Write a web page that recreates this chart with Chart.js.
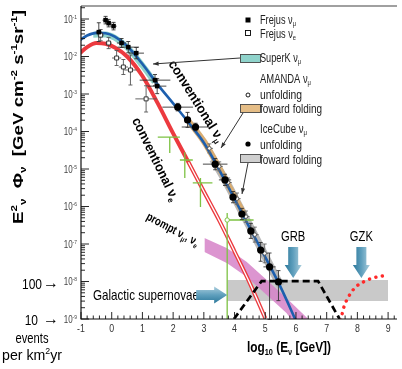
<!DOCTYPE html>
<html lang="en">
<head>
<meta charset="UTF-8">
<title>Neutrino flux</title>
<script src="https://cdn.jsdelivr.net/npm/chart.js"></script>
<style>
  html, body { margin: 0; padding: 0; background: #fff; }
</style>
</head>
<body>
<canvas id="fluxChart" width="402" height="369"></canvas>
<script>
  // all values as log10(E/GeV) and log10(E^2 Phi)
  var blueLogE = [-1.05, -0.8, -0.5, -0.2, 0.1, 0.5, 1.0, 1.5, 2.0, 2.5, 3.0, 3.5, 4.0, 4.5, 5.0, 5.5, 6.0];
  var blueLogF = [-1.57, -1.44, -1.37, -1.38, -1.47, -1.72, -2.2, -2.75, -3.25, -3.76, -4.3, -5.02, -5.8, -6.58, -7.35, -8.15, -9.05];
  var redLogE = [-1.05, -0.8, -0.5, -0.2, 0.1, 0.5, 1.0, 1.5, 2.0, 2.5, 3.0, 3.5, 4.0, 4.5, 5.0];
  var redLogF = [-1.92, -1.75, -1.64, -1.66, -1.76, -2.0, -2.52, -3.25, -4.05, -4.82, -5.6, -6.37, -7.2, -8.05, -8.98];

  var promptLogE = [3.02, 3.76, 4.40, 5.05, 5.69, 6.40];
  var promptHiF = [-6.84, -7.11, -7.48, -7.96, -8.44, -9.0];
  var promptLoF = [-7.21, -7.51, -7.88, -8.36, -8.84, -9.6];

  var snLogE = [3.76, 9.0];
  var snHiF = [-7.96, -7.96];
  var snLoF = [-8.52, -8.52];

  var superkLogE = [-0.6, -0.2, 0.1, 0.5, 1.0, 1.4];
  var superkLogF = [-1.42, -1.41, -1.5, -1.75, -2.24, -2.68];
  var amandaBandLogE = [2.5, 3.0, 3.5, 4.0, 4.3];
  var amandaBandLogF = [-3.72, -4.26, -4.97, -5.74, -6.2];
  var icBandLogE = [3.3, 3.7, 4.2, 4.7, 5.2, 5.5];
  var icBandLogF = [-4.74, -5.3, -6.07, -6.85, -7.65, -8.12];

  var grbLogE = [3.98, 4.88, 6.72, 7.42];
  var grbLogF = [-9.0, -7.99, -7.99, -9.0];
  var gzkLogE = [7.46, 7.55, 7.71, 7.94, 8.2, 8.49, 8.84, 9.0];
  var gzkLogF = [-9.03, -8.71, -8.41, -8.15, -8.01, -7.91, -7.85, -7.83];

  // Frejus numu (filled squares)
  var frejusMuE = [-0.42, -0.20, -0.10, 0.06, 0.32, 0.54, 0.80, 1.41, 1.48];
  var frejusMuF = [-1.35, -1.03, -1.11, -1.19, -1.64, -1.75, -1.91, -2.63, -2.79];
  var frejusMuDE = [0.1, 0.1, 0.1, 0.1, 0.15, 0.35, 0.25, 0.5, 0.3];
  var frejusMuDF = [0.25, 0.1, 0.1, 0.1, 0.12, 0.15, 0.15, 0.15, 0.2];
  // Frejus nue (open squares)
  var frejusEE = [-0.36, -0.10, 0.16, 0.38, 0.61, 1.12];
  var frejusEF = [-1.43, -1.64, -2.04, -2.28, -2.36, -3.13];
  var frejusEDE = [0.1, 0.1, 0.15, 0.15, 0.2, 0.35];
  var frejusEDF = [0.15, 0.15, 0.2, 0.2, 0.4, 0.35];
  // AMANDA unfolding (open circles)
  var amandaE = [3.18, 3.50, 3.79, 4.08, 4.37, 4.66, 4.98];
  var amandaF = [-4.45, -4.93, -5.36, -5.79, -6.27, -6.75, -7.25];
  var amandaDE = [0.12, 0.12, 0.12, 0.12, 0.12, 0.12, 0.12];
  var amandaDF = [0.12, 0.12, 0.12, 0.15, 0.15, 0.2, 0.25];
  // IceCube unfolding (filled circles)
  var iceE = [2.15, 2.47, 2.73, 3.37, 3.69, 3.95, 4.24, 4.53, 4.85, 5.14, 5.43];
  var iceF = [-3.35, -3.69, -3.88, -4.87, -5.29, -5.75, -6.20, -6.65, -7.16, -7.61, -8.01];
  var iceDE = [0.5, 0.1, 0.45, 0.4, 0.2, 0.1, 0.1, 0.1, 0.1, 0.2, 0.1];
  var iceDFup = [0.1, 0.2, 0.1, 0.15, 0.15, 0.15, 0.15, 0.2, 0.2, 0.37, 0.3];
  var iceDFdn = [0.1, 0.2, 0.1, 0.15, 0.15, 0.15, 0.15, 0.2, 0.3, 1.4, 0.5];
  // IceCube nue (green crosses)
  var greenE = [1.89, 2.38, 2.89, 3.76];
  var greenF = [-4.15, -4.76, -5.37, -6.36];
  var greenElo = [1.5, 2.22, 2.64, 3.76];
  var greenEhi = [2.22, 2.64, 3.28, 4.62];
  var greenFlo = [-4.57, -5.24, -6.01, -9.0];
  var greenFhi = [-4.15, -4.55, -5.24, -6.17];

  var yMajorTicks = [-9, -8, -7, -6, -5, -4, -3, -2, -1];
  var xMajorTicks = [-1, 0, 1, 2, 3, 4, 5, 6, 7, 8, 9];

  var FONT = '"Liberation Sans", Arial, sans-serif';
  var COND = 0.8; // squeeze text to look like a condensed face

  function pts(xs, ys) {
    return xs.map(function (x, i) { return { x: x, y: Math.pow(10, ys[i]) }; });
  }

  function fontFor(mode, size, weight) {
    var sz = mode ? size * 0.62 : size;
    return weight + ' ' + sz.toFixed(1) + 'px ' + FONT;
  }
  function richWidth(ctx, segs, size, weight) {
    var w = 0;
    segs.forEach(function (s) { ctx.font = fontFor(s[1], size, weight); w += ctx.measureText(s[0]).width; });
    return w;
  }
  // segs: [text, ''|'^'|'_'], y is the vertical middle
  function drawRich(ctx, segs, x, y, size, weight, align, targetW) {
    var w = richWidth(ctx, segs, size, weight);
    var k = targetW ? targetW / w : COND;
    ctx.save();
    ctx.translate(x, y + size * 0.35);
    ctx.scale(k, 1);
    var cx = align === 'center' ? -w / 2 : (align === 'right' ? -w : 0);
    ctx.textAlign = 'left';
    ctx.textBaseline = 'alphabetic';
    segs.forEach(function (s) {
      ctx.font = fontFor(s[1], size, weight);
      var dy = s[1] === '^' ? -size * 0.4 : (s[1] === '_' ? size * 0.22 : 0);
      ctx.fillText(s[0], cx, dy);
      cx += ctx.measureText(s[0]).width;
    });
    ctx.restore();
  }
  function drawRotated(ctx, segs, cx, cy, angle, size, weight, targetW) {
    ctx.save();
    ctx.translate(cx, cy);
    ctx.rotate(angle * Math.PI / 180);
    drawRich(ctx, segs, 0, 0, size, weight, 'center', targetW);
    ctx.restore();
  }
  function arrowLine(ctx, x1, y1, x2, y2) {
    var a = Math.atan2(y2 - y1, x2 - x1);
    ctx.beginPath();
    ctx.moveTo(x1, y1);
    ctx.lineTo(x2, y2);
    ctx.stroke();
    ctx.beginPath();
    ctx.moveTo(x2, y2);
    ctx.lineTo(x2 - 6 * Math.cos(a - 0.35), y2 - 6 * Math.sin(a - 0.35));
    ctx.lineTo(x2 - 6 * Math.cos(a + 0.35), y2 - 6 * Math.sin(a + 0.35));
    ctx.closePath();
    ctx.fill();
  }
  // fat blue arrow, tip at (tx, ty), dir 'down' or 'right'
  function fatArrow(ctx, tx, ty, dir) {
    ctx.save();
    ctx.translate(tx, ty);
    if (dir === 'right') ctx.rotate(-Math.PI / 2);
    var g = ctx.createLinearGradient(-8, 0, 8, 0);
    g.addColorStop(0, '#2e7a9c');
    g.addColorStop(0.5, '#5f9fbd');
    g.addColorStop(1, '#a6cbdb');
    ctx.fillStyle = g;
    ctx.beginPath();
    ctx.moveTo(0, 0);
    ctx.lineTo(-8.5, -13);
    ctx.lineTo(-5, -13);
    ctx.lineTo(-5, -31);
    ctx.lineTo(5, -31);
    ctx.lineTo(5, -13);
    ctx.lineTo(8.5, -13);
    ctx.closePath();
    ctx.fill();
    ctx.restore();
  }

  var BLUE_INDEX = 9;

  var overlay = {
    id: 'overlay',
    afterDatasetDraw: function (chart, args) {
      if (args.index !== BLUE_INDEX) return;
      var ctx = chart.ctx, sx = chart.scales.x, sy = chart.scales.y;
      function px(v) { return sx.getPixelForValue(v); }
      function py(v) { return sy.getPixelForValue(Math.pow(10, v)); }
      ctx.save();
      // green crosses
      ctx.strokeStyle = '#7dc243';
      ctx.lineWidth = 1.3;
      greenE.forEach(function (e, i) {
        ctx.beginPath();
        ctx.moveTo(px(greenElo[i]), py(greenF[i]));
        ctx.lineTo(px(greenEhi[i]), py(greenF[i]));
        ctx.moveTo(px(e), py(greenFhi[i]));
        ctx.lineTo(px(e), py(greenFlo[i]));
        ctx.stroke();
      });
      // black error bars
      function bars(xs, ys, dx, dup, ddn, col) {
        ctx.strokeStyle = col;
        ctx.lineWidth = 0.9;
        xs.forEach(function (e, i) {
          var x = px(e), y = py(ys[i]);
          var yt = py(ys[i] + dup[i]), yb = py(ys[i] - ddn[i]);
          ctx.beginPath();
          ctx.moveTo(px(e - dx[i]), y);
          ctx.lineTo(px(e + dx[i]), y);
          ctx.moveTo(x, yt);
          ctx.lineTo(x, yb);
          ctx.moveTo(x - 2, yt); ctx.lineTo(x + 2, yt);
          ctx.moveTo(x - 2, yb); ctx.lineTo(x + 2, yb);
          ctx.stroke();
        });
      }
      bars(frejusMuE, frejusMuF, frejusMuDE, frejusMuDF, frejusMuDF, '#333');
      bars(frejusEE, frejusEF, frejusEDE, frejusEDF, frejusEDF, '#555');
      bars(amandaE, amandaF, amandaDE, amandaDF, amandaDF, '#666');
      bars(iceE, iceF, iceDE, iceDFup, iceDFdn, '#333');
      ctx.restore();
    },
    afterDraw: function (chart) {
      var ctx = chart.ctx, sx = chart.scales.x, sy = chart.scales.y, a = chart.chartArea;
      function px(v) { return sx.getPixelForValue(v); }
      function py(v) { return sy.getPixelForValue(Math.pow(10, v)); }
      ctx.save();

      // frame
      ctx.strokeStyle = '#a0a0a0';
      ctx.lineWidth = 2;
      ctx.beginPath(); ctx.moveTo(a.left, a.top); ctx.lineTo(a.right, a.top); ctx.stroke();
      ctx.strokeStyle = '#111';
      ctx.lineWidth = 1.2;
      ctx.beginPath();
      ctx.moveTo(a.left, a.top); ctx.lineTo(a.left, a.bottom); ctx.lineTo(a.right, a.bottom);
      ctx.stroke();

      // y ticks
      ctx.lineWidth = 0.9;
      ctx.beginPath();
      yMajorTicks.forEach(function (n) {
        var y = py(n);
        ctx.moveTo(a.left, y); ctx.lineTo(a.left + 8, y);
        for (var m = 2; m <= 9; m++) {
          var v = n + Math.log10(m);
          if (v > Math.log10(sy.max)) break;
          var ym = py(v);
          ctx.moveTo(a.left, ym); ctx.lineTo(a.left + 4, ym);
        }
      });
      ctx.stroke();
      ctx.fillStyle = '#444';
      yMajorTicks.forEach(function (n) {
        drawRich(ctx, [['10', ''], [String(n), '^']], a.left - 4, py(n), 10, 'normal', 'right');
      });

      // x ticks
      ctx.beginPath();
      xMajorTicks.forEach(function (t) {
        var x = px(t);
        ctx.moveTo(x, a.bottom); ctx.lineTo(x, a.bottom - 7);
        for (var k = 1; k < 5; k++) {
          var xm = px(t + k * 0.2);
          if (xm > a.right) break;
          ctx.moveTo(xm, a.bottom); ctx.lineTo(xm, a.bottom - 3.5);
        }
      });
      ctx.stroke();
      ctx.fillStyle = '#333';
      xMajorTicks.forEach(function (t) {
        drawRich(ctx, [[String(t), '']], px(t), a.bottom + 9, 11, 'normal', 'center');
      });

      // axis titles
      ctx.fillStyle = '#000';
      drawRotated(ctx, [['E', ''], ['2', '^'], ['ν', '_'], ['  Φ', ''], ['ν', '_'], ['  [GeV cm', ''], ['-2', '^'], [' s', ''], ['-1', '^'], ['sr', ''], ['-1', '^'], [']', '']],
        18, 117, -90, 14, 'bold', 214);
      drawRich(ctx, [['log', ''], ['10', '_'], [' (E', ''], ['ν', '_'], [' [GeV])', '']], 289, 347, 14, 'bold', 'center', 84);

      // left annotations
      drawRich(ctx, [['100', '']], 42, 284, 15, 'normal', 'right');
      drawRich(ctx, [['10', '']], 38, 320, 15, 'normal', 'right');
      ctx.font = 'bold 16px ' + FONT;
      ctx.textAlign = 'left';
      ctx.textBaseline = 'middle';
      ctx.fillText('→', 43, 284);
      ctx.fillText('→', 43, 320);
      drawRich(ctx, [['events', '']], 32, 338, 14, 'normal', 'center');
      drawRich(ctx, [['per km', ''], ['2', '^'], ['yr', '']], 32, 355, 14, 'normal', 'center', 60);

      // curve labels
      drawRotated(ctx, [['conventional ν', ''], ['μ', '_']], 197, 101, 58, 13.5, 'bold', 94);
      drawRotated(ctx, [['conventional ν', ''], ['e', '_']], 156, 159, 64, 13.5, 'bold', 91);
      drawRotated(ctx, [['prompt ν', ''], ['μ', '_'], [', ν', ''], ['e', '_']], 173, 229, 28, 12, 'bold', 58);

      // sources
      drawRich(ctx, [['Galactic supernovae', '']], 93, 295, 15, 'normal', 'left', 106);
      drawRich(ctx, [['GRB', '']], px(5.91), 236, 14, 'normal', 'center');
      drawRich(ctx, [['GZK', '']], px(8.13), 236, 14, 'normal', 'center');
      fatArrow(ctx, px(5.91), 278, 'down');
      fatArrow(ctx, px(8.13), 278, 'down');
      fatArrow(ctx, px(3.76), 295, 'right');

      // legend
      ctx.fillStyle = '#000';
      ctx.fillRect(245.5, 17.5, 5, 5);
      ctx.strokeStyle = '#000';
      ctx.lineWidth = 0.9;
      ctx.fillStyle = '#fff';
      ctx.fillRect(245.5, 30.5, 5, 5);
      ctx.strokeRect(245.5, 30.5, 5, 5);
      function swatch(y, col) {
        ctx.fillStyle = col;
        ctx.fillRect(240.5, y, 20, 8);
        ctx.strokeStyle = '#444';
        ctx.strokeRect(240.5, y, 20, 8);
      }
      swatch(54.5, '#8fd3cb');
      swatch(104.5, '#e5bd86');
      swatch(154.5, '#cfcfcf');
      ctx.strokeStyle = '#000';
      ctx.fillStyle = '#fff';
      ctx.beginPath(); ctx.arc(248, 95, 2, 0, Math.PI * 2); ctx.fill(); ctx.stroke();
      ctx.fillStyle = '#000';
      ctx.beginPath(); ctx.arc(248, 144, 2.6, 0, Math.PI * 2); ctx.fill();

      ctx.fillStyle = '#222';
      var lf = 13;
      drawRich(ctx, [['Frejus ν', ''], ['μ', '_']], 260, 19, lf, 'normal', 'left', 36);
      drawRich(ctx, [['Frejus ν', ''], ['e', '_']], 260, 33, lf, 'normal', 'left', 36);
      drawRich(ctx, [['SuperK ν', ''], ['μ', '_']], 260, 57, lf, 'normal', 'left', 41);
      drawRich(ctx, [['AMANDA ν', ''], ['μ', '_']], 260, 78, lf, 'normal', 'left', 51);
      drawRich(ctx, [['unfolding', '']], 260, 94, lf, 'normal', 'left', 42);
      drawRich(ctx, [['foward folding', '']], 260, 108, lf, 'normal', 'left', 62);
      drawRich(ctx, [['IceCube ν', ''], ['μ', '_']], 260, 128, lf, 'normal', 'left', 47);
      drawRich(ctx, [['unfolding', '']], 260, 144, lf, 'normal', 'left', 42);
      drawRich(ctx, [['foward folding', '']], 260, 159, lf, 'normal', 'left', 62);

      // pointers
      ctx.strokeStyle = '#333';
      ctx.fillStyle = '#333';
      ctx.lineWidth = 1;
      arrowLine(ctx, 240, 58, 153, 64);
      arrowLine(ctx, 243, 113, 221, 148);
      arrowLine(ctx, 248, 163, 242, 194);
      ctx.restore();
    }
  };

  function band(xs, ys, col, w, order) {
    return { data: pts(xs, ys), borderColor: col, borderWidth: w, pointRadius: 0, fill: false,
      cubicInterpolationMode: 'monotone', order: order };
  }

  var datasets = [
    // 0,1 galactic supernovae band
    { data: pts(snLogE, snHiF), borderWidth: 0, pointRadius: 0, fill: false, order: 30 },
    { data: pts(snLogE, snLoF), borderWidth: 0, pointRadius: 0, fill: 0, backgroundColor: '#c9c9c9', order: 30 },
    // 2,3 prompt band
    { data: pts(promptLogE, promptHiF), borderWidth: 0, pointRadius: 0, fill: false, order: 29 },
    { data: pts(promptLogE, promptLoF), borderWidth: 0, pointRadius: 0, fill: 2, backgroundColor: 'rgba(214,130,200,0.85)', order: 29 },
    // 4-6 forward folding bands
    band(superkLogE, superkLogF, '#8fd3cb', 6, 20),
    band(amandaBandLogE, amandaBandLogF, '#d9ad72', 6, 20),
    band(icBandLogE, icBandLogF, '#b9b9b9', 8, 21),
    // 7,8 conventional nue
    band(redLogE, redLogF, '#ec3a3f', 4, 12),
    band(redLogE.filter(function (e) { return e >= 2.5; }), redLogF.slice(redLogE.indexOf(2.5)), '#fff', 1.3, 11),
    // 9 conventional numu
    band(blueLogE, blueLogF, '#1d5fae', 2.6, 10),
    // 10 GRB
    { data: pts(grbLogE, grbLogF), borderColor: '#000', borderWidth: 2.7, borderDash: [7, 4], pointRadius: 0, fill: false, order: 5 },
    // 11 GZK
    { data: pts(gzkLogE, gzkLogF), borderColor: '#ff2a2a', borderWidth: 3.4, borderDash: [0.1, 6.5], borderCapStyle: 'round',
      pointRadius: 0, fill: false, cubicInterpolationMode: 'monotone', order: 5 },
    // 12-16 data points
    { data: pts(frejusMuE, frejusMuF), showLine: false, pointStyle: 'rect', pointRadius: 3.2, backgroundColor: '#000', borderColor: '#000', borderWidth: 0, order: 1 },
    { data: pts(frejusEE, frejusEF), showLine: false, pointStyle: 'rect', pointRadius: 2.8, backgroundColor: '#fff', borderColor: '#222', borderWidth: 0.9, order: 1 },
    { data: pts(amandaE, amandaF), showLine: false, pointStyle: 'circle', pointRadius: 1.8, backgroundColor: '#fff', borderColor: '#444', borderWidth: 0.8, order: 1 },
    { data: pts(iceE, iceF), showLine: false, pointStyle: 'circle', pointRadius: 3.6, backgroundColor: '#000', borderColor: '#000', borderWidth: 0, order: 0 },
    { data: pts([greenE[3]], [greenF[3]]), showLine: false, pointStyle: 'circle', pointRadius: 2.2, backgroundColor: '#fff', borderColor: '#7dc243', borderWidth: 1, order: 0 }
  ];

  new Chart(document.getElementById('fluxChart'), {
    type: 'line',
    data: { datasets: datasets },
    options: {
      responsive: false,
      animation: false,
      layout: { padding: { left: 81, top: 6, right: 0, bottom: 50 } },
      plugins: { legend: { display: false }, tooltip: { enabled: false } },
      scales: {
        x: { type: 'linear', min: -1, max: 9.29, display: false },
        y: { type: 'logarithmic', min: 1e-9, max: Math.pow(10, -0.653), display: false }
      }
    },
    plugins: [overlay]
  });
</script>
</body>
</html>
